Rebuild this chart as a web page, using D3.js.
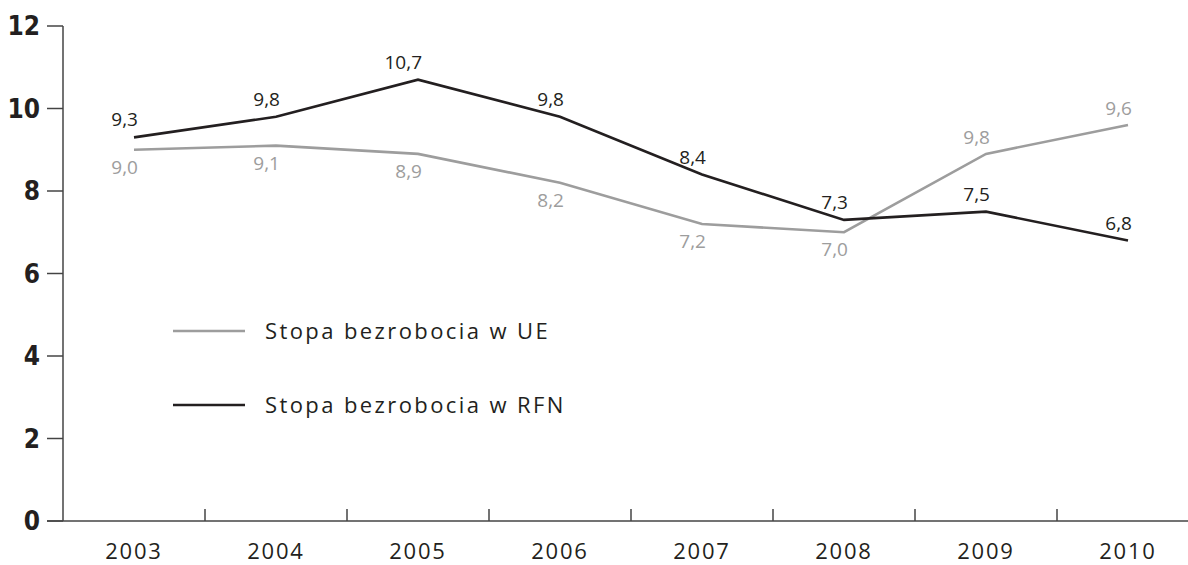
<!DOCTYPE html>
<html>
<head>
<meta charset="utf-8">
<script src="https://cdn.jsdelivr.net/npm/d3@7"></script>
<style>
  body { margin: 0; background: #fff; }
  svg { display: block; }
  .ylab { font-family: 'DejaVu Sans Condensed', 'DejaVu Sans', sans-serif; font-weight: bold; font-size: 26px; fill: #231f20; }
  .xlab { font-family: 'Open Sans', sans-serif; font-size: 22px; letter-spacing: 1.8px; fill: #231f20; }
  .val { font-family: 'Open Sans', sans-serif; font-size: 19px; }
  .leg { font-family: 'Open Sans', sans-serif; font-size: 22px; letter-spacing: 2.4px; fill: #231f20; }
</style>
</head>
<body>
<svg class="canvas"></svg>
<script>
const years = ['2003', '2004', '2005', '2006', '2007', '2008', '2009', '2010'];
const euValues = [9.0, 9.1, 8.9, 8.2, 7.2, 7.0, 8.9, 9.6];
const euLabels = ['9,0', '9,1', '8,9', '8,2', '7,2', '7,0', '9,8', '9,6'];
const rfnValues = [9.3, 9.8, 10.7, 9.8, 8.4, 7.3, 7.5, 6.8];
const rfnLabels = ['9,3', '9,8', '10,7', '9,8', '8,4', '7,3', '7,5', '6,8'];
const yTicks = [0, 2, 4, 6, 8, 10, 12];
const legendNames = ['Stopa bezrobocia w UE', 'Stopa bezrobocia w RFN'];

const W = 1188, H = 565;
const grey = '#9d9d9d', dark = '#231f20', axisCol = '#444';

const svg = d3.select('.canvas').attr('width', W).attr('height', H);

const x = d3.scaleBand().domain(years).range([63, 63 + 142 * 8]);
const y = d3.scaleLinear().domain([0, 12]).range([521, 26]);
const xc = d => x(d) + x.bandwidth() / 2;

// y axis
svg.append('line')
  .attr('x1', 63).attr('x2', 63)
  .attr('y1', y(12)).attr('y2', y(0))
  .attr('stroke', axisCol).attr('stroke-width', 1.5);

const yt = svg.append('g').selectAll('g').data(yTicks).join('g');
yt.append('line')
  .attr('x1', 47).attr('x2', 63)
  .attr('y1', d => y(d)).attr('y2', d => y(d))
  .attr('stroke', axisCol).attr('stroke-width', 1.5);
yt.append('text')
  .attr('class', 'ylab')
  .attr('x', 40).attr('y', d => y(d))
  .attr('dy', '0.36em')
  .attr('text-anchor', 'end')
  .text(d => d);

// x axis
svg.append('line')
  .attr('x1', 47).attr('x2', W)
  .attr('y1', y(0)).attr('y2', y(0))
  .attr('stroke', axisCol).attr('stroke-width', 1.5);

svg.append('g').selectAll('line').data(years.slice(1)).join('line')
  .attr('x1', d => x(d)).attr('x2', d => x(d))
  .attr('y1', y(0) - 12).attr('y2', y(0))
  .attr('stroke', axisCol).attr('stroke-width', 1.5);

svg.append('g').selectAll('text').data(years).join('text')
  .attr('class', 'xlab')
  .attr('x', d => xc(d))
  .attr('y', 559)
  .attr('text-anchor', 'middle')
  .text(d => d);

// lines
const line = d3.line().x((d, i) => xc(years[i])).y(d => y(d));

svg.append('path')
  .datum(euValues)
  .attr('d', line)
  .attr('fill', 'none')
  .attr('stroke', grey)
  .attr('stroke-width', 2.6);

svg.append('path')
  .datum(rfnValues)
  .attr('d', line)
  .attr('fill', 'none')
  .attr('stroke', dark)
  .attr('stroke-width', 2.6);

// value labels
svg.append('g').selectAll('text').data(rfnValues).join('text')
  .attr('class', 'val')
  .attr('fill', dark)
  .attr('x', (d, i) => xc(years[i]) + 4)
  .attr('y', d => y(d) - 11)
  .attr('text-anchor', 'end')
  .text((d, i) => rfnLabels[i]);

svg.append('g').selectAll('text').data(euValues).join('text')
  .attr('class', 'val')
  .attr('fill', grey)
  .attr('x', (d, i) => xc(years[i]) + 4)
  .attr('y', (d, i) => d > rfnValues[i] ? y(d) - 10 : y(d) + 24)
  .attr('text-anchor', 'end')
  .text((d, i) => euLabels[i]);

// legend
const leg = svg.append('g').selectAll('g').data(legendNames).join('g')
  .attr('transform', (d, i) => `translate(173, ${331 + i * 74})`);
leg.append('line')
  .attr('x1', 0).attr('x2', 72)
  .attr('stroke', (d, i) => i ? dark : grey)
  .attr('stroke-width', 2.6);
leg.append('text')
  .attr('class', 'leg')
  .attr('x', 92).attr('dy', '0.35em')
  .text(d => d);
</script>
</body>
</html>
